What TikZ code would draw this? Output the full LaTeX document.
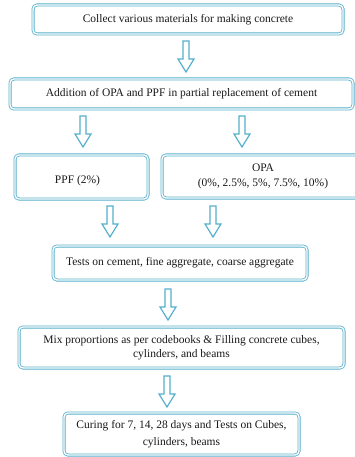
\documentclass[tikz,border=0pt]{standalone}
\usepackage{fontspec}
\setmainfont{Liberation Serif}
\definecolor{bl}{RGB}{86,176,204}
\definecolor{tx}{RGB}{25,25,25}
\tikzset{
  boxst/.style={draw=bl, double=white, double distance=1.4pt, line width=0.8pt,
    rounded corners=4pt, rectangle, align=center, inner sep=2pt,
    font=\fontsize{11.5}{14}\selectfont, text=tx},
  arrline/.style={draw=bl, line width=1.2pt, line join=miter, fill=white}
}
\newcommand{\myarrow}[2]{\path[arrline] (#1-3,#2) -- (#1-3,#2+18) -- (#1-8,#2+18) -- (#1,#2+31) -- (#1+8,#2+18) -- (#1+3,#2+18) -- (#1+3,#2) -- cycle;}
\begin{document}
\begin{tikzpicture}[x=1pt,y=-1pt]
\useasboundingbox (0,0) rectangle (355,457);
\clip (0,0) rectangle (355,457);
\fill[white] (0,0) rectangle (355,457);
\node[boxst, minimum width=310pt, minimum height=29pt] (b1) at (188,19.5) {Collect various materials for making concrete};
\node[boxst, minimum width=343pt, minimum height=30pt] (b2) at (181.5,94) {Addition of OPA and PPF in partial replacement of cement};
\node[boxst, minimum width=133pt, minimum height=44pt] (ppf) at (81.5,177) {};
\node[font=\fontsize{11.5}{14}\selectfont, text=tx] (ppft) at (77.5,181) {PPF (2\%)};
\node[boxst, minimum width=202pt, minimum height=43pt, font=\fontsize{11.5}{15}\selectfont] (opa) at (263,176.5) {OPA\\(0\%, 2.5\%, 5\%, 7.5\%, 10\%)};
\node[boxst, minimum width=254pt, minimum height=34pt] (tests) at (180,263) {Tests on cement, fine aggregate, coarse aggregate};
\node[boxst, minimum width=325pt, minimum height=41pt] (mix) at (181.5,347.5) {Mix proportions as per codebooks \& Filling concrete cubes,\\cylinders, and beams};
\node[boxst, minimum width=235pt, minimum height=42pt, font=\fontsize{11.5}{16.5}\selectfont] (cur) at (181.5,434) {Curing for 7, 14, 28 days and Tests on Cubes,\\cylinders, beams};
\myarrow{186}{41}
\myarrow{83}{116}
\myarrow{242}{116}
\myarrow{110}{206}
\myarrow{213}{206}
\myarrow{168}{289}
\myarrow{167}{376}
\end{tikzpicture}
\end{document}
